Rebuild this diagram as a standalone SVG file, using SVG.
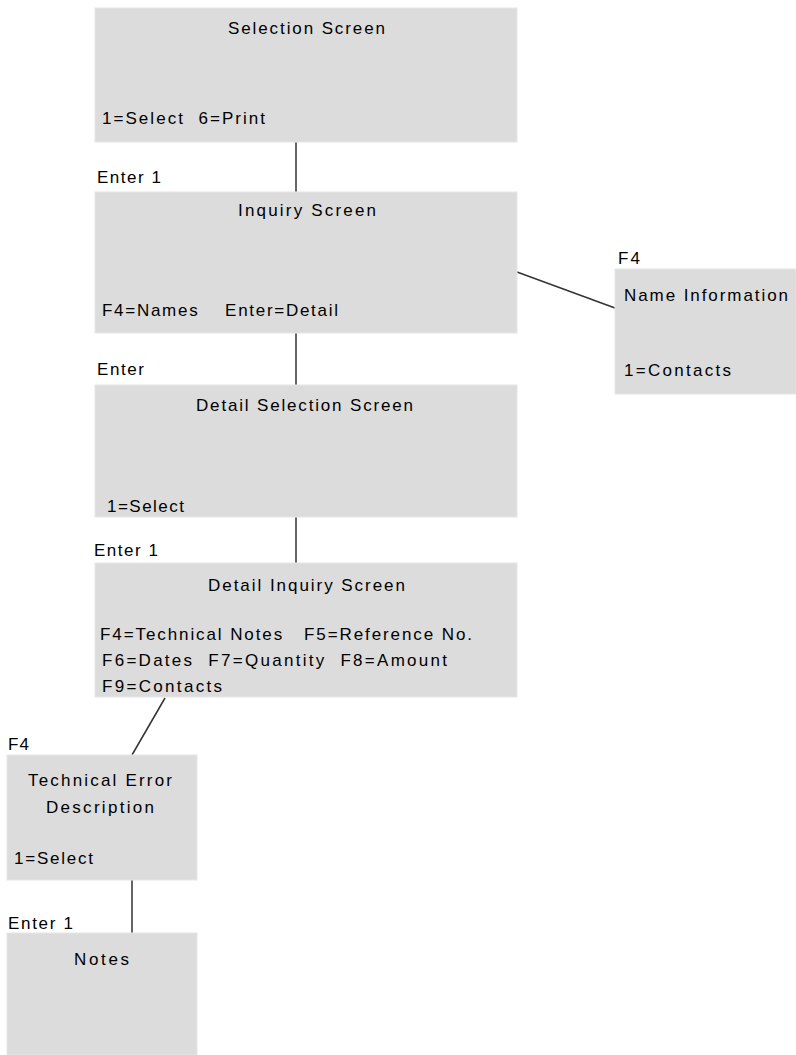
<svg xmlns="http://www.w3.org/2000/svg" width="796" height="1055" viewBox="0 0 796 1055">
<style>
.box{fill:#dcdcdc;stroke:#e6e6e6;stroke-width:1}
.t{font-family:"Liberation Sans",Arial,sans-serif;font-size:17px;fill:#000}
.c{stroke:#333;stroke-width:1.5;fill:none}
</style>
<rect width="796" height="1055" fill="#fff"/>
<g id="connectors">
<line class="c" x1="296" y1="142" x2="296" y2="192"/>
<line class="c" x1="296" y1="333" x2="296" y2="385"/>
<line class="c" x1="296" y1="517" x2="296" y2="563"/>
<line class="c" x1="517" y1="272" x2="615" y2="308"/>
<line class="c" x1="165" y1="698" x2="132" y2="755"/>
<line class="c" x1="132" y1="880" x2="132" y2="933"/>
</g>
<g id="selection-screen">
<rect class="box" x="95" y="8" width="422" height="134"/>
<text class="t" x="228" y="34" textLength="157" lengthAdjust="spacing">Selection Screen</text>
<text class="t" x="102" y="124" textLength="163" lengthAdjust="spacing" xml:space="preserve">1=Select  6=Print</text>
</g>
<g id="inquiry-screen">
<text class="t" x="97" y="183" textLength="64" lengthAdjust="spacing">Enter 1</text>
<rect class="box" x="95" y="192" width="422" height="141"/>
<text class="t" x="238" y="216" textLength="138" lengthAdjust="spacing">Inquiry Screen</text>
<text class="t" x="102" y="316" textLength="236" lengthAdjust="spacing" xml:space="preserve">F4=Names    Enter=Detail</text>
</g>
<g id="name-information">
<text class="t" x="618" y="264" textLength="22" lengthAdjust="spacing">F4</text>
<rect class="box" x="615" y="269" width="181" height="125"/>
<text class="t" x="624" y="301" textLength="164" lengthAdjust="spacing">Name Information</text>
<text class="t" x="624" y="376" textLength="107" lengthAdjust="spacing">1=Contacts</text>
</g>
<g id="detail-selection-screen">
<text class="t" x="97" y="375" textLength="47" lengthAdjust="spacing">Enter</text>
<rect class="box" x="95" y="385" width="422" height="132"/>
<text class="t" x="196" y="411" textLength="217" lengthAdjust="spacing">Detail Selection Screen</text>
<text class="t" x="107" y="512" textLength="77" lengthAdjust="spacing">1=Select</text>
</g>
<g id="detail-inquiry-screen">
<text class="t" x="94" y="556" textLength="64" lengthAdjust="spacing">Enter 1</text>
<rect class="box" x="95" y="563" width="422" height="134"/>
<text class="t" x="208" y="591" textLength="197" lengthAdjust="spacing">Detail Inquiry Screen</text>
<text class="t" x="100" y="640" textLength="372" lengthAdjust="spacing" xml:space="preserve">F4=Technical Notes   F5=Reference No.</text>
<text class="t" x="102" y="666" textLength="345" lengthAdjust="spacing" xml:space="preserve">F6=Dates  F7=Quantity  F8=Amount</text>
<text class="t" x="102" y="692" textLength="120" lengthAdjust="spacing">F9=Contacts</text>
</g>
<g id="technical-error-description">
<text class="t" x="8" y="750" textLength="21" lengthAdjust="spacing">F4</text>
<rect class="box" x="7" y="755" width="190" height="125"/>
<text class="t" x="28" y="786" textLength="144" lengthAdjust="spacing">Technical Error</text>
<text class="t" x="46" y="813" textLength="108" lengthAdjust="spacing">Description</text>
<text class="t" x="14" y="864" textLength="79" lengthAdjust="spacing">1=Select</text>
</g>
<g id="notes">
<text class="t" x="8" y="929" textLength="65" lengthAdjust="spacing">Enter 1</text>
<rect class="box" x="7" y="933" width="190" height="122"/>
<text class="t" x="74" y="965" textLength="55" lengthAdjust="spacing">Notes</text>
</g>
</svg>
